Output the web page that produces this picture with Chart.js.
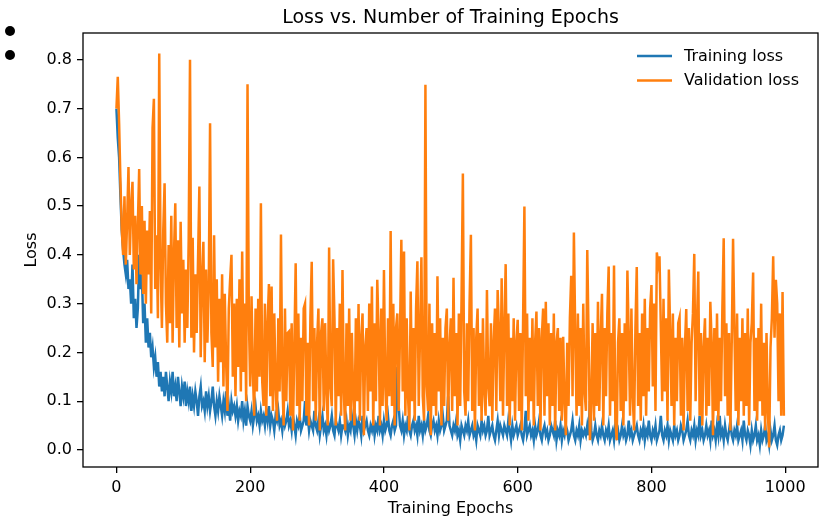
<!DOCTYPE html>
<html><head><meta charset="utf-8">
<script src="https://cdn.jsdelivr.net/npm/chart.js@4.4.0/dist/chart.umd.min.js"></script>
<style>
html,body{margin:0;padding:0;background:#fff;}
#wrap{position:relative;width:822px;height:520px;}
.dot{position:absolute;width:10px;height:10px;border-radius:50%;background:#000;left:5px;}
</style></head><body>
<div id="wrap">
<canvas id="c" width="822" height="520"></canvas>
<div class="dot" style="top:26px"></div>
<div class="dot" style="top:50px"></div>
</div>
<script>
// ---- data (one value every 2 epochs) ----
const titleText = 'Loss vs. Number of Training Epochs';
const xTitle = 'Training Epochs';
const yTitle = 'Loss';
const seriesNames = ['Training loss', 'Validation loss'];
const epochStep = 2;
const xTicks = [0, 200, 400, 600, 800, 1000];
const yTicks = [0.0, 0.1, 0.2, 0.3, 0.4, 0.5, 0.6, 0.7, 0.8];

const trainLoss = [
0.70,0.64,0.60,0.52,0.45,0.41,0.38,0.36,0.39,0.33,
0.35,0.30,0.38,0.27,0.31,0.25,0.29,0.40,0.33,0.36,
0.26,0.30,0.22,0.27,0.21,0.24,0.19,0.21,0.17,0.19,
0.15,0.18,0.13,0.16,0.12,0.15,0.11,0.16,0.13,0.10,
0.14,0.12,0.16,0.11,0.13,0.10,0.15,0.12,0.09,0.13,
0.11,0.14,0.09,0.12,0.10,0.13,0.08,0.11,0.09,0.12,
0.10,0.07,0.11,0.13,0.09,0.10,0.08,0.12,0.09,0.11,
0.08,0.10,0.13,0.09,0.07,0.10,0.08,0.11,0.09,0.07,
0.10,0.08,0.12,0.07,0.09,0.06,0.10,0.08,0.09,0.07,
0.09,0.06,0.08,0.07,0.10,0.06,0.08,0.05,0.09,0.07,
0.06,0.08,0.05,0.07,0.09,0.06,0.07,0.05,0.08,0.06,
0.07,0.05,0.08,0.06,0.09,0.05,0.07,0.06,0.04,0.07,
0.06,0.08,0.05,0.06,0.04,0.07,0.05,0.06,0.08,0.05,
0.06,0.04,0.07,0.05,0.03,0.06,0.05,0.07,0.04,0.05,
0.06,0.10,0.05,0.07,0.04,0.06,0.05,0.04,0.08,0.05,
0.04,0.06,0.03,0.05,0.07,0.04,0.05,0.03,0.06,0.04,
0.05,0.07,0.04,0.03,0.06,0.05,0.04,0.06,0.03,0.05,
0.05,0.04,0.06,0.03,0.05,0.04,0.07,0.05,0.03,0.06,
0.04,0.06,0.05,0.03,0.07,0.04,0.05,0.06,0.04,0.03,
0.05,0.04,0.06,0.03,0.05,0.04,0.07,0.04,0.05,0.03,
0.06,0.04,0.05,0.07,0.04,0.03,0.05,0.06,0.04,0.05,
0.17,0.09,0.05,0.04,0.06,0.03,0.05,0.04,0.07,0.04,
0.03,0.05,0.06,0.04,0.05,0.03,0.07,0.04,0.05,0.03,
0.06,0.04,0.05,0.07,0.04,0.03,0.05,0.06,0.04,0.05,
0.03,0.06,0.04,0.05,0.07,0.04,0.05,0.06,0.11,0.05,
0.04,0.03,0.05,0.04,0.06,0.03,0.04,0.02,0.05,0.04,
0.03,0.05,0.04,0.06,0.03,0.04,0.05,0.03,0.04,0.02,
0.05,0.04,0.03,0.06,0.04,0.05,0.03,0.04,0.07,0.03,
0.04,0.05,0.03,0.02,0.04,0.06,0.03,0.05,0.04,0.03,
0.05,0.04,0.03,0.06,0.04,0.02,0.05,0.03,0.04,0.05,
0.03,0.04,0.05,0.03,0.02,0.04,0.08,0.03,0.04,0.05,
0.03,0.04,0.02,0.05,0.03,0.04,0.06,0.03,0.02,0.04,
0.05,0.03,0.04,0.02,0.03,0.05,0.04,0.03,0.06,0.02,
0.04,0.03,0.05,0.02,0.04,0.03,0.05,0.04,0.02,0.03,
0.04,0.06,0.03,0.02,0.04,0.03,0.05,0.02,0.04,0.03,
0.04,0.03,0.05,0.03,0.10,0.04,0.02,0.03,0.05,0.03,
0.02,0.04,0.03,0.05,0.03,0.02,0.04,0.03,0.05,0.02,
0.03,0.04,0.02,0.05,0.03,0.04,0.02,0.03,0.05,0.03,
0.04,0.02,0.03,0.06,0.03,0.04,0.02,0.03,0.04,0.05,
0.03,0.02,0.04,0.03,0.05,0.02,0.04,0.03,0.06,0.03,
0.02,0.04,0.03,0.05,0.02,0.03,0.04,0.07,0.03,0.02,
0.04,0.03,0.05,0.02,0.04,0.03,0.02,0.05,0.03,0.04,
0.02,0.03,0.05,0.04,0.02,0.03,0.04,0.06,0.03,0.02,
0.04,0.03,0.05,0.02,0.04,0.03,0.07,0.03,0.04,0.02,
0.03,0.05,0.03,0.04,0.02,0.06,0.03,0.04,0.02,0.05,
0.03,0.07,0.03,0.04,0.02,0.05,0.03,0.02,0.04,0.06,
0.03,0.02,0.04,0.03,0.05,0.02,0.03,0.04,0.02,0.06,
0.03,0.02,0.04,0.03,0.01,0.04,0.02,0.03,0.05,0.02,
0.03,0.01,0.04,0.02,0.03,0.05,0.02,0.03,0.01,0.04,
0.02,0.03,0.05,0.02,0.01,0.03,0.04,0.02,0.03,0.05
];

const valLoss = [
0.70,0.765,0.67,0.55,0.45,0.40,0.52,0.38,0.47,0.58,
0.40,0.50,0.55,0.37,0.48,0.34,0.46,0.576,0.36,0.50,
0.32,0.47,0.30,0.45,0.36,0.49,0.28,0.66,0.72,0.33,
0.44,0.27,0.813,0.38,0.25,0.45,0.547,0.30,0.22,0.42,
0.26,0.48,0.22,0.40,0.506,0.25,0.43,0.21,0.468,0.28,
0.39,0.22,0.37,0.25,0.43,0.80,0.23,0.435,0.20,0.36,
0.24,0.39,0.54,0.19,0.35,0.427,0.18,0.37,0.22,0.33,
0.67,0.24,0.17,0.44,0.21,0.35,0.14,0.31,0.18,0.36,
0.13,0.32,0.18,0.08,0.29,0.35,0.40,0.15,0.30,0.11,
0.31,0.17,0.35,0.12,0.407,0.16,0.30,0.10,0.75,0.27,
0.13,0.315,0.16,0.07,0.29,0.12,0.31,0.15,0.506,0.14,
0.09,0.30,0.07,0.26,0.34,0.11,0.335,0.08,0.28,0.13,
0.06,0.27,0.12,0.442,0.15,0.05,0.29,0.10,0.24,0.243,
0.07,0.26,0.04,0.21,0.383,0.09,0.28,0.06,0.23,0.10,
0.29,0.30,0.07,0.22,0.05,0.27,0.386,0.10,0.25,0.06,
0.22,0.29,0.04,0.24,0.27,0.08,0.26,0.12,0.05,0.415,
0.13,0.09,0.391,0.27,0.05,0.25,0.11,0.30,0.07,0.369,
0.12,0.04,0.26,0.09,0.29,0.06,0.24,0.11,0.05,0.27,
0.10,0.299,0.06,0.23,0.28,0.03,0.21,0.25,0.08,0.30,
0.12,0.335,0.05,0.26,0.10,0.349,0.24,0.05,0.29,0.09,
0.369,0.13,0.06,0.27,0.11,0.449,0.09,0.30,0.05,0.25,
0.28,0.08,0.24,0.431,0.12,0.407,0.07,0.27,0.11,0.04,
0.325,0.10,0.25,0.06,0.29,0.387,0.09,0.24,0.395,0.11,
0.06,0.749,0.13,0.08,0.30,0.03,0.26,0.09,0.24,0.07,
0.356,0.12,0.27,0.05,0.23,0.09,0.25,0.29,0.06,0.21,
0.27,0.08,0.353,0.11,0.24,0.05,0.28,0.09,0.31,0.567,
0.12,0.07,0.26,0.10,0.30,0.441,0.08,0.25,0.04,0.23,
0.29,0.09,0.24,0.06,0.27,0.12,0.07,0.328,0.13,0.09,
0.26,0.06,0.22,0.29,0.08,0.328,0.24,0.10,0.352,0.07,
0.25,0.381,0.09,0.28,0.05,0.23,0.10,0.27,0.06,0.22,
0.267,0.08,0.24,0.04,0.26,0.499,0.11,0.28,0.06,0.23,
0.10,0.27,0.05,0.22,0.284,0.09,0.25,0.04,0.23,0.29,
0.07,0.304,0.11,0.26,0.05,0.24,0.09,0.28,0.04,0.22,
0.25,0.08,0.23,0.06,0.232,0.10,0.03,0.22,0.09,0.27,
0.357,0.11,0.446,0.24,0.07,0.28,0.09,0.25,0.05,0.30,
0.12,0.08,0.41,0.23,0.02,0.10,0.26,0.06,0.24,0.09,
0.304,0.08,0.23,0.32,0.05,0.25,0.11,0.28,0.376,0.07,
0.24,0.10,0.378,0.06,0.02,0.22,0.27,0.08,0.24,0.05,
0.26,0.10,0.368,0.23,0.07,0.29,0.11,0.04,0.25,0.375,
0.09,0.24,0.06,0.28,0.11,0.31,0.07,0.25,0.12,0.29,
0.338,0.13,0.30,0.08,0.405,0.38,0.397,0.25,0.10,0.31,
0.12,0.27,0.06,0.37,0.24,0.09,0.28,0.05,0.23,0.10,
0.26,0.272,0.07,0.23,0.04,0.21,0.289,0.08,0.25,0.06,
0.22,0.28,0.402,0.10,0.26,0.366,0.07,0.24,0.05,0.21,
0.27,0.07,0.23,0.09,0.304,0.22,0.03,0.25,0.08,0.28,
0.06,0.23,0.10,0.29,0.434,0.11,0.26,0.07,0.24,0.04,
0.22,0.433,0.25,0.08,0.28,0.05,0.23,0.10,0.27,0.07,
0.24,0.09,0.29,0.05,0.22,0.26,0.364,0.08,0.23,0.06,
0.25,0.10,0.30,0.07,0.22,0.04,0.24,0.08,0.005,0.21,
0.27,0.397,0.23,0.349,0.30,0.10,0.28,0.07,0.324,0.07
];

const seriesColors = ['#1f77b4', '#ff7f0e'];

// ---- chart ----
const FAMILY = '"DejaVu Sans", Verdana, sans-serif';
const toPoints = arr => arr.map((v, i) => ({ x: i * epochStep, y: v }));

const frameAndLegend = {
  id: 'frameAndLegend',
  afterLayout(chart) {
    const tb = chart.titleBlock;
    if (tb) { tb.left = chart.chartArea.left; tb.right = chart.chartArea.right; }
  },
  afterDatasetsDraw(chart) {
    const { ctx, chartArea: a } = chart;
    ctx.save();
    ctx.strokeStyle = '#000';
    ctx.lineWidth = 1.3;
    ctx.strokeRect(a.left, a.top, a.right - a.left, a.bottom - a.top);
    const x1 = a.right - 181, x2 = a.right - 146, tx = a.right - 134;
    let y = a.top + 23;
    ctx.font = '16px ' + FAMILY;
    ctx.textBaseline = 'middle';
    ctx.textAlign = 'left';
    chart.data.datasets.forEach(ds => {
      ctx.strokeStyle = ds.borderColor;
      ctx.lineWidth = ds.borderWidth;
      ctx.beginPath(); ctx.moveTo(x1, y); ctx.lineTo(x2, y); ctx.stroke();
      ctx.fillStyle = '#000';
      ctx.fillText(ds.label, tx, y + 0.5);
      y += 24.5;
    });
    ctx.restore();
  }
};

const tickFont = { family: FAMILY, size: 16 };
const gridCfg = { display: true, drawOnChartArea: false, drawTicks: true, tickLength: 6,
  color: '#000', tickColor: '#000', lineWidth: 1.3, tickWidth: 1.3 };

new Chart(document.getElementById('c'), {
  type: 'line',
  data: {
    datasets: [
      { label: seriesNames[0], data: toPoints(trainLoss), borderColor: seriesColors[0],
        backgroundColor: seriesColors[0], borderWidth: 2.5, pointRadius: 0, tension: 0, fill: false, order: 2 },
      { label: seriesNames[1], data: toPoints(valLoss), borderColor: seriesColors[1],
        backgroundColor: seriesColors[1], borderWidth: 2.5, pointRadius: 0, tension: 0, fill: false, order: 1 }
    ]
  },
  options: {
    responsive: false,
    animation: false,
    devicePixelRatio: 1,
    layout: { padding: { left: 0, right: 4, top: 0, bottom: 0 } },
    plugins: {
      legend: { display: false },
      tooltip: { enabled: false },
      title: { display: true, text: titleText, color: '#000',
        font: { family: FAMILY, size: 19, weight: 'normal' }, padding: { top: 7, bottom: 3.2 } }
    },
    scales: {
      x: {
        type: 'linear', min: -50, max: 1049,
        afterBuildTicks: s => { s.ticks = xTicks.map(v => ({ value: v })); },
        afterFit: s => { s.height = 53; },
        ticks: { font: tickFont, color: '#000', padding: 5, maxRotation: 0, autoSkip: false,
          callback: v => String(v) },
        grid: gridCfg,
        border: { display: false },
        title: { display: true, text: xTitle, color: '#000', font: tickFont, padding: { top: 0, bottom: 1.5 } }
      },
      y: {
        type: 'linear', min: -0.035, max: 0.855,
        afterBuildTicks: s => { s.ticks = yTicks.map(v => ({ value: v })); },
        afterFit: s => { s.width = 83; },
        ticks: { font: tickFont, color: '#000', padding: 5, autoSkip: false,
          callback: v => Number(v).toFixed(1) },
        grid: gridCfg,
        border: { display: false },
        title: { display: true, text: yTitle, color: '#000', font: tickFont, padding: { top: 22, bottom: 0 } }
      }
    }
  },
  plugins: [frameAndLegend]
});
</script>
</body></html>
